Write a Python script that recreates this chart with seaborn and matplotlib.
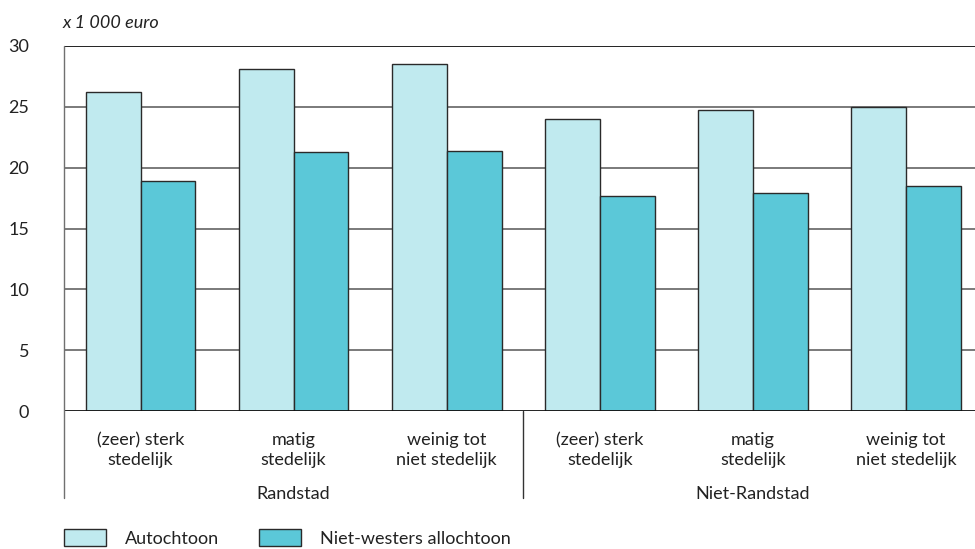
import matplotlib
matplotlib.use("Agg")
import matplotlib.pyplot as plt
import seaborn as sns
import pandas as pd
from matplotlib.lines import Line2D

# Gemiddeld besteedbaar huishoudensinkomen (x 1 000 euro)
regions = ["Randstad", "Niet-Randstad"]
urbanity = ["(zeer) sterk\nstedelijk", "matig\nstedelijk", "weinig tot\nniet stedelijk"]
groups = ["Autochtoon", "Niet-westers allochtoon"]
autochtoon = [26.2, 28.1, 28.5, 24.0, 24.7, 25.0]
niet_westers = [18.9, 21.3, 21.4, 17.7, 17.9, 18.5]

categories = [f"{r}|{u}" for r in regions for u in urbanity]
tick_labels = [u for r in regions for u in urbanity]

df = pd.DataFrame({
    "categorie": categories * 2,
    "groep": [groups[0]] * 6 + [groups[1]] * 6,
    "inkomen": autochtoon + niet_westers,
})

sns.set_theme(style="white")
plt.rcParams["font.family"] = ["Lato", "DejaVu Sans"]
text_color = "#222222"
fs = 13

fig = plt.figure(figsize=(9.75, 5.49), dpi=100)
# the plotting area runs slightly past the right edge of the figure
ax = fig.add_axes([64 / 975, 1 - 411 / 549, 918.6 / 975, 365 / 549])

sns.barplot(
    data=df, x="categorie", y="inkomen", hue="groep", order=categories,
    hue_order=groups, palette=["#c0eaef", "#5bc8d8"], width=0.716,
    edgecolor="#2a2a2a", linewidth=1.0, saturation=1, ax=ax, zorder=3,
)

ax.set_ylim(0, 30)
ax.set_xlim(-0.5, 5.5)
ax.set_yticks(range(0, 31, 5))
ax.set_xticks(range(6))
ax.set_xticklabels(tick_labels, fontsize=fs, color=text_color, linespacing=1.32)
ax.tick_params(axis="x", length=0, pad=15)
ax.tick_params(axis="y", length=0, pad=25, labelsize=fs, labelcolor=text_color)
ax.set_xlabel("")
ax.set_ylabel("")

# horizontal reference lines
for v in range(5, 30, 5):
    ax.axhline(v, color="#707070", linewidth=1.3, zorder=1)
ax.axhline(30, color="#111111", linewidth=1.3, zorder=1)
ax.axhline(0, color="#111111", linewidth=1.3, zorder=4)

for side in ["top", "right", "bottom", "left"]:
    ax.spines[side].set_visible(False)

# left axis line and region separator, extended below the plot
ext = -(498 - 411) / 365
ax.add_line(Line2D([0, 0], [ext, 1.0], transform=ax.transAxes,
                   color="#707070", linewidth=1.0, clip_on=False, zorder=5))
ax.add_line(Line2D([0.5, 0.5], [ext, 0.0], transform=ax.transAxes,
                   color="#333333", linewidth=1.0, clip_on=False, zorder=5))

# region labels
for i, r in enumerate(regions):
    ax.text(1 + 3 * i, -(494 - 411) / 365, r, transform=ax.get_xaxis_transform(),
            ha="center", va="center", fontsize=fs, color=text_color)

# unit label
fig.text(63 / 975, 1 - 23 / 549, "x 1 000 euro", ha="left", va="center",
         fontsize=fs, style="italic", color=text_color)

leg = ax.legend(
    loc="center left", bbox_to_anchor=(64 / 975, 1 - 538 / 549),
    bbox_transform=fig.transFigure, ncol=2, frameon=False, fontsize=fs,
    handlelength=2.33, handleheight=1.1, handletextpad=1.05,
    columnspacing=2.2, borderaxespad=0, borderpad=0,
)
for t in leg.get_texts():
    t.set_color(text_color)

fig.savefig("out.png", dpi=100)
